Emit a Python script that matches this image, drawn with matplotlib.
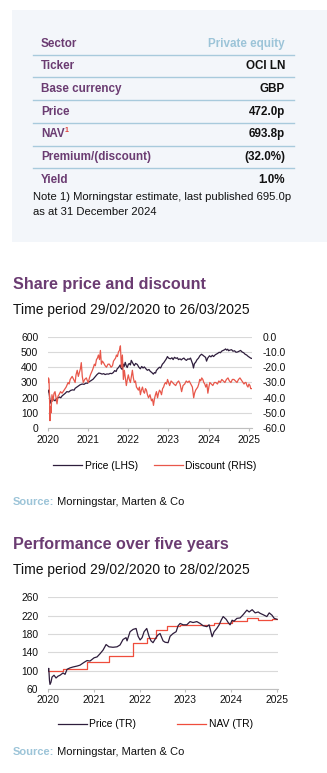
import matplotlib
matplotlib.use("Agg")
import matplotlib.pyplot as plt
from matplotlib.patches import Rectangle
import pandas as pd

plt.rcParams['font.family'] = ['Liberation Sans', 'DejaVu Sans']

# ---------------- data ----------------
table_labels = ["Sector", "Ticker", "Base currency", "Price", "NAV", "Premium/(discount)", "Yield"]
table_values = ["Private equity", "OCI LN", "GBP", "472.0p", "693.8p", "(32.0%)", "1.0%"]
note_lines = ["Note 1) Morningstar estimate, last published 695.0p", "as at 31 December 2024"]

title1 = "Share price and discount"
period1 = "Time period 29/02/2020 to 26/03/2025"
title2 = "Performance over five years"
period2 = "Time period 29/02/2020 to 28/02/2025"
legend1 = ["Price (LHS)", "Discount (RHS)"]
legend2 = ["Price (TR)", "NAV (TR)"]
source_label = "Source:"
source_text = " Morningstar, Marten & Co"

price_dates = [
    "2020-02-29", "2020-03-06", "2020-03-13", "2020-03-19", "2020-03-23", "2020-03-30", "2020-04-07",
    "2020-04-15", "2020-04-24", "2020-05-03", "2020-05-14", "2020-05-30", "2020-06-12", "2020-06-24",
    "2020-07-06", "2020-07-22", "2020-08-05", "2020-08-18", "2020-09-05", "2020-09-22", "2020-10-10",
    "2020-10-24", "2020-11-02", "2020-11-18", "2020-12-03", "2020-12-17", "2021-01-05", "2021-01-22",
    "2021-02-08", "2021-02-22", "2021-03-10", "2021-03-26", "2021-04-15", "2021-05-03", "2021-05-20",
    "2021-06-05", "2021-06-18", "2021-07-05", "2021-07-20", "2021-08-02", "2021-08-18", "2021-09-03",
    "2021-09-17", "2021-10-01", "2021-10-15", "2021-10-28", "2021-11-10", "2021-11-20", "2021-12-02",
    "2021-12-17", "2021-12-24", "2022-01-05", "2022-01-14", "2022-01-22", "2022-02-01", "2022-02-10",
    "2022-02-19", "2022-03-01", "2022-03-10", "2022-03-20", "2022-03-28", "2022-04-08", "2022-04-24",
    "2022-05-06", "2022-05-22", "2022-06-05", "2022-06-18", "2022-07-01", "2022-07-13", "2022-07-25",
    "2022-08-08", "2022-08-21", "2022-09-05", "2022-09-18", "2022-09-27", "2022-10-08", "2022-10-15",
    "2022-10-25", "2022-11-04", "2022-11-11", "2022-11-25", "2022-12-09", "2022-12-20", "2023-01-05",
    "2023-01-18", "2023-02-01", "2023-02-10", "2023-02-20", "2023-03-02", "2023-03-19", "2023-04-02",
    "2023-04-13", "2023-04-25", "2023-05-10", "2023-05-22", "2023-05-31", "2023-06-15", "2023-06-26",
    "2023-07-07", "2023-07-20", "2023-08-01", "2023-08-12", "2023-08-25", "2023-09-06", "2023-09-18",
    "2023-09-28", "2023-10-08", "2023-10-15", "2023-10-24", "2023-11-02", "2023-11-15", "2023-11-30",
    "2023-12-12", "2023-12-27", "2024-01-10", "2024-01-23", "2024-02-02", "2024-02-11", "2024-02-22",
    "2024-03-09", "2024-03-22", "2024-04-04", "2024-04-15", "2024-05-01", "2024-05-21", "2024-06-05",
    "2024-06-17", "2024-06-27", "2024-07-12", "2024-07-25", "2024-08-02", "2024-08-12", "2024-08-22",
    "2024-08-30", "2024-09-10", "2024-09-26", "2024-10-08", "2024-10-23", "2024-11-05", "2024-11-20",
    "2024-12-03", "2024-12-17", "2024-12-30", "2025-01-14", "2025-01-27", "2025-02-10", "2025-02-22",
    "2025-03-09", "2025-03-18", "2025-03-26"]
price_values = [
    240, 250, 215, 170, 165, 185, 178,
    192, 185, 180, 192, 200, 205, 200,
    212, 222, 230, 240, 238, 248, 252,
    250, 262, 270, 278, 285, 290, 288,
    296, 295, 305, 312, 322, 338, 352,
    362, 360, 355, 358, 352, 356, 355,
    360, 358, 365, 378, 372, 390, 398,
    415, 395, 385, 420, 405, 432, 410,
    398, 418, 425, 415, 445, 430, 410,
    425, 418, 400, 390, 405, 395, 402,
    390, 380, 385, 372, 368, 360, 355,
    365, 362, 378, 390, 400, 395, 420,
    430, 445, 455, 470, 460, 455, 462,
    450, 465, 458, 462, 450, 455, 448,
    455, 460, 450, 445, 455, 452, 460,
    440, 420, 395, 425, 430, 448, 460,
    475, 485, 478, 470, 465, 440, 460,
    475, 468, 478, 470, 482, 490, 498,
    495, 505, 510, 515, 520, 512, 518,
    508, 512, 515, 505, 508, 498, 500,
    505, 510, 500, 495, 485, 480, 472,
    465, 460, 458]

disc_dates = [
    "2020-02-29", "2020-03-04", "2020-03-09", "2020-03-14", "2020-03-18", "2020-03-22", "2020-03-27",
    "2020-04-05", "2020-04-14", "2020-04-24", "2020-05-03", "2020-05-12", "2020-05-21", "2020-05-30",
    "2020-06-08", "2020-06-22", "2020-07-06", "2020-07-24", "2020-08-03", "2020-08-12", "2020-08-30",
    "2020-09-08", "2020-09-18", "2020-10-06", "2020-10-20", "2020-11-02", "2020-11-10", "2020-11-21",
    "2020-12-01", "2020-12-09", "2020-12-20", "2020-12-28", "2021-01-06", "2021-01-15", "2021-01-28",
    "2021-02-12", "2021-02-22", "2021-03-02", "2021-03-12", "2021-03-21", "2021-04-08", "2021-04-18",
    "2021-04-26", "2021-05-05", "2021-05-15", "2021-05-24", "2021-06-02", "2021-06-12", "2021-06-20",
    "2021-06-29", "2021-07-08", "2021-07-18", "2021-08-02", "2021-08-14", "2021-08-28", "2021-09-10",
    "2021-09-25", "2021-10-08", "2021-10-17", "2021-10-26", "2021-11-05", "2021-11-13", "2021-11-22",
    "2021-12-01", "2021-12-10", "2021-12-19", "2021-12-24", "2021-12-28", "2022-01-02", "2022-01-06",
    "2022-01-11", "2022-01-15", "2022-01-24", "2022-02-02", "2022-02-11", "2022-02-20", "2022-03-01",
    "2022-03-10", "2022-03-20", "2022-03-29", "2022-04-07", "2022-04-16", "2022-04-25", "2022-05-05",
    "2022-05-14", "2022-05-23", "2022-06-01", "2022-06-10", "2022-06-19", "2022-06-28", "2022-07-08",
    "2022-07-17", "2022-07-26", "2022-08-04", "2022-08-13", "2022-08-22", "2022-09-01", "2022-09-14",
    "2022-09-28", "2022-10-07", "2022-10-16", "2022-10-24", "2022-11-03", "2022-11-12", "2022-11-22",
    "2022-12-01", "2022-12-10", "2022-12-19", "2022-12-28", "2023-01-07", "2023-01-16", "2023-01-25",
    "2023-02-03", "2023-02-12", "2023-02-21", "2023-03-02", "2023-03-12", "2023-03-25", "2023-04-08",
    "2023-04-20", "2023-05-06", "2023-05-20", "2023-06-02", "2023-06-15", "2023-06-29", "2023-07-12",
    "2023-07-27", "2023-08-10", "2023-08-24", "2023-09-06", "2023-09-20", "2023-10-05", "2023-10-17",
    "2023-10-25", "2023-11-04", "2023-11-14", "2023-11-23", "2023-12-02", "2023-12-11", "2023-12-20",
    "2023-12-29", "2024-01-08", "2024-01-17", "2024-01-26", "2024-02-04", "2024-02-14", "2024-02-23",
    "2024-03-03", "2024-03-12", "2024-03-25", "2024-04-08", "2024-04-22", "2024-05-06", "2024-05-20",
    "2024-06-02", "2024-06-15", "2024-06-29", "2024-07-13", "2024-07-27", "2024-08-10", "2024-08-24",
    "2024-09-06", "2024-09-20", "2024-10-03", "2024-10-17", "2024-10-31", "2024-11-14", "2024-11-28",
    "2024-12-11", "2024-12-20", "2024-12-30", "2025-01-08", "2025-01-17", "2025-01-27", "2025-02-04",
    "2025-02-13", "2025-02-22", "2025-03-03", "2025-03-12", "2025-03-19", "2025-03-26"]
disc_values = [
    -30, -27, -28, -40, -55, -46, -50,
    -38, -42, -37, -36, -40, -44, -39,
    -38, -36, -37, -35, -34, -33, -30,
    -31, -28, -26, -28, -30, -25, -22,
    -26, -24, -21, -17, -26, -30, -28,
    -27, -29, -30, -27, -25, -22, -20,
    -18, -19, -15, -14, -12, -15, -9,
    -18, -16, -17, -19, -20, -18, -18,
    -20, -19, -16, -15, -14, -12, -13,
    -10, -9, -6, -14, -20, -15, -12,
    -22, -28, -22, -27, -32, -28, -25,
    -28, -30, -26, -22, -27, -30, -29,
    -33, -34, -35, -33, -38, -35, -33,
    -36, -37, -34, -35, -38, -40, -38,
    -42, -41, -45, -41, -38, -36, -40,
    -37, -35, -36, -38, -34, -33, -31,
    -30, -31, -28, -30, -32, -29, -30,
    -31, -32, -30, -29, -31, -36, -32,
    -31, -29, -30, -29, -31, -33, -40,
    -37, -35, -34, -33, -31, -28, -29,
    -27, -28, -30, -31, -33, -31, -37,
    -33, -30, -31, -32, -30, -30, -31,
    -29, -30, -28, -29, -30, -28, -27,
    -29, -30, -28, -28, -29, -30, -28,
    -27, -28, -29, -30, -31, -30, -30,
    -32, -33, -31, -32, -34, -34]

tr_dates = [
    "2020-02-29", "2020-03-06", "2020-03-12", "2020-03-16", "2020-03-24", "2020-04-01", "2020-04-17",
    "2020-05-03", "2020-05-19", "2020-06-04", "2020-06-28", "2020-07-14", "2020-07-30", "2020-08-22",
    "2020-09-15", "2020-10-17", "2020-11-10", "2020-12-12", "2021-01-05", "2021-01-29", "2021-03-02",
    "2021-03-26", "2021-04-19", "2021-05-13", "2021-06-06", "2021-06-29", "2021-07-31", "2021-09-01",
    "2021-09-25", "2021-10-19", "2021-11-12", "2021-11-20", "2021-12-14", "2022-01-07", "2022-01-31",
    "2022-02-16", "2022-03-04", "2022-03-20", "2022-04-05", "2022-04-26", "2022-05-14", "2022-05-30",
    "2022-06-15", "2022-07-09", "2022-07-25", "2022-08-10", "2022-09-03", "2022-09-19", "2022-10-13",
    "2022-10-29", "2022-11-22", "2022-12-16", "2023-01-01", "2023-01-17", "2023-02-10", "2023-03-11",
    "2023-04-06", "2023-04-30", "2023-05-30", "2023-06-25", "2023-07-19", "2023-08-18", "2023-09-05",
    "2023-09-29", "2023-10-15", "2023-11-05", "2023-11-24", "2023-12-10", "2023-12-26", "2024-01-19",
    "2024-02-04", "2024-02-19", "2024-03-06", "2024-03-22", "2024-04-13", "2024-05-09", "2024-06-02",
    "2024-07-02", "2024-07-20", "2024-08-13", "2024-09-06", "2024-09-30", "2024-10-16", "2024-11-09",
    "2024-12-08", "2024-12-27", "2025-01-18", "2025-02-05", "2025-02-27"]
tr_values = [
    100, 105, 78, 70, 75, 86, 90,
    84, 88, 90, 95, 92, 103, 106,
    108, 110, 112, 118, 122, 121, 128,
    130, 137, 145, 157, 152, 151, 152,
    156, 168, 172, 165, 185, 190, 192,
    175, 167, 172, 185, 192, 175, 165,
    161, 172, 178, 181, 165, 162, 161,
    175, 181, 185, 198, 203, 200, 200,
    207, 205, 207, 203, 198, 196, 200,
    174, 185, 192, 200, 210, 218, 212,
    205, 200, 210, 208, 214, 215, 222,
    232, 228, 233, 226, 228, 225, 222,
    218, 226, 221, 214, 212]

nav_dates = ["2020-02-29", "2020-06-28", "2021-01-05", "2021-06-29", "2022-01-07", "2022-04-26",
             "2022-07-09", "2022-10-03", "2023-01-17", "2023-10-16", "2024-03-06", "2024-07-02",
             "2024-09-30", "2025-01-18", "2025-02-28"]
nav_values = [100, 104, 119.5, 133, 160, 172, 188, 197, 200, 204, 208, 214, 210, 212, 212]

year_ticks = ["2020-02-29", "2021-02-28", "2022-02-28", "2023-02-28", "2024-02-29", "2025-02-28"]
year_labels = ["2020", "2021", "2022", "2023", "2024", "2025"]
lhs_ticks = [0, 100, 200, 300, 400, 500, 600]
rhs_ticks = [-60, -50, -40, -30, -20, -10, 0]
perf_ticks = [60, 100, 140, 180, 220, 260]

# ---------------- style ----------------
W, H = 327, 773
PURPLE = "#6b3c72"
LIGHTBLUE = "#9cc4d8"
RULE = "#a8cadc"
PANEL = "#f3f6fa"
PRICE_C = "#2e1d3c"
DISC_C = "#e8574a"
NAV_C = "#ef4d3c"
GRID = "#d9d9d9"
AXIS = "#bfbfbf"
TXT = "#111111"


def fx(px):
    return px / W


def fy(py):
    return 1 - py / H


fig = plt.figure(figsize=(W / 100, H / 100), dpi=100)
fig.patch.set_facecolor("white")

# panel
fig.patches.append(Rectangle((fx(12), fy(242)), fx(327) - fx(12), fy(10) - fy(242),
                             transform=fig.transFigure, facecolor=PANEL, edgecolor="none", zorder=0))

# table
label_texts = []
for i, (lab, val) in enumerate(zip(table_labels, table_values)):
    yc = 43.6 + i * 22.7
    t = fig.text(fx(41), fy(yc), lab, fontsize=8.4, weight="bold", color=PURPLE, va="center", ha="left")
    label_texts.append(t)
    fig.text(fx(285), fy(yc), val, fontsize=8.4, weight="bold",
             color=(LIGHTBLUE if i == 0 else TXT), va="center", ha="right")
    if i < len(table_labels) - 1:
        yl = 54.7 + i * 22.7
        fig.lines.append(plt.Line2D([fx(33), fx(294)], [fy(yl), fy(yl)], transform=fig.transFigure,
                                    color=RULE, lw=1.0))
fig.canvas.draw()
nav_bb = label_texts[4].get_window_extent()
fig.text((nav_bb.x1 + 0.3) / W, fy(130.3), "1", fontsize=5, weight="bold", color="#e0403a",
         va="center", ha="left")
for j, line in enumerate(note_lines):
    fig.text(fx(33), fy(197.5 + j * 14.5), line, fontsize=8.15, color=TXT, va="center", ha="left")


def source(py):
    t1 = fig.text(fx(12.7), fy(py), source_label, fontsize=8, weight="bold", color=LIGHTBLUE,
                  va="center", ha="left")
    fig.canvas.draw()
    bb = t1.get_window_extent()
    fig.text(bb.x1 / W, fy(py), source_text, fontsize=8, color=TXT, va="center", ha="left")


def style_axes(ax, ticks, labelsize=7.4):
    for s in ["top", "right", "left"]:
        ax.spines[s].set_visible(False)
    ax.spines["bottom"].set_color(AXIS)
    ax.spines["bottom"].set_linewidth(0.8)
    ax.grid(axis="y", color=GRID, lw=0.8)
    ax.set_axisbelow(True)
    ax.set_xticks(pd.to_datetime(ticks))
    ax.set_xticklabels(year_labels)
    ax.tick_params(axis="x", length=2.5, width=0.8, color=AXIS, pad=2, labelsize=labelsize, labelcolor=TXT)
    ax.tick_params(axis="y", length=0, pad=7, labelsize=labelsize, labelcolor=TXT)
    ax.set_facecolor("none")


# ---- chart 1 ----
fig.text(fx(12.7), fy(284.3), title1, fontsize=11.6, weight="bold", color=PURPLE, va="center")
fig.text(fx(12.7), fy(310), period1, fontsize=10, color=TXT, va="center")

ax1 = fig.add_axes([fx(48), fy(428.3), (251.7 - 48) / W, (428.3 - 336.7) / H])
h1, = ax1.plot(pd.to_datetime(price_dates), price_values, color=PRICE_C, lw=0.9)
ax1.set_ylim(0, 600)
ax1.set_yticks(lhs_ticks)
ax1.set_xlim(pd.Timestamp("2020-02-29"), pd.Timestamp("2025-03-28"))
style_axes(ax1, year_ticks)

ax1b = ax1.twinx()
h2, = ax1b.plot(pd.to_datetime(disc_dates), disc_values, color=DISC_C, lw=0.9)
ax1b.set_ylim(-60, 0)
ax1b.set_yticks(rhs_ticks)
ax1b.set_yticklabels([f"{v:.1f}" for v in rhs_ticks])
for s in ax1b.spines.values():
    s.set_visible(False)
ax1b.tick_params(axis="y", length=0, pad=8, labelsize=7.4, labelcolor=TXT)
ax1b.set_xlim(ax1.get_xlim())

fig.legend([h1, h2], legend1, loc="center", bbox_to_anchor=(fx(155), fy(465.7)), ncol=2,
           frameon=False, fontsize=7.4, handlelength=2.8, handletextpad=0.25, columnspacing=1.6,
           borderpad=0, borderaxespad=0)
source(501.7)

# ---- chart 2 ----
fig.text(fx(12.7), fy(544.3), title2, fontsize=11.6, weight="bold", color=PURPLE, va="center")
fig.text(fx(12.7), fy(570), period2, fontsize=10, color=TXT, va="center")

ax2 = fig.add_axes([fx(48), fy(689), (278 - 48) / W, (689 - 597.3) / H])
g1, = ax2.plot(pd.to_datetime(tr_dates), tr_values, color=PRICE_C, lw=0.9, zorder=3)
g2, = ax2.step(pd.to_datetime(nav_dates), nav_values, where="post", color=NAV_C, lw=0.9, zorder=2)
ax2.set_ylim(60, 260)
ax2.set_yticks(perf_ticks)
ax2.set_xlim(pd.Timestamp("2020-02-29"), pd.Timestamp("2025-03-07"))
style_axes(ax2, year_ticks)

fig.legend([g1, g2], legend2, loc="center", bbox_to_anchor=(fx(155.5), fy(724.3)), ncol=2,
           frameon=False, fontsize=7.4, handlelength=2.8, handletextpad=0.25, columnspacing=4.0,
           borderpad=0, borderaxespad=0)
source(751.7)

fig.savefig("out.png", dpi=100)
